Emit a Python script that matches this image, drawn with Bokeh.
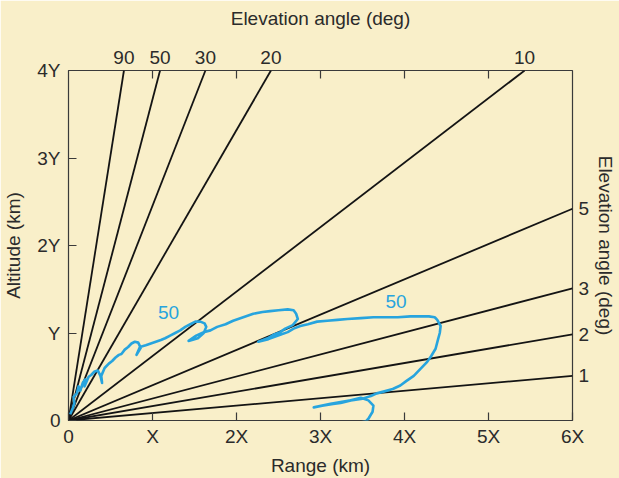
from bokeh.plotting import figure
from bokeh.models import LinearAxis, FixedTicker, Range1d
from bokeh.core.properties import value
from bokeh.embed import file_html
from bokeh.resources import INLINE

# ---- data ----
x_ticks = [0, 1, 2, 3, 4, 5, 6]
x_tick_labels = ["0", "X", "2X", "3X", "4X", "5X", "6X"]
y_ticks = [0, 1, 2, 3, 4]
y_tick_labels = ["0", "Y", "2Y", "3Y", "4Y"]

ray_angles = [1, 2, 3, 5, 10, 20, 30, 50, 90]
ray_end_x = [6, 6, 6, 6, 5.43, 2.41, 1.63, 1.09, 0.66]
ray_end_y = [0.51, 0.985, 1.51, 2.42, 4, 4, 4, 4, 4]

trace_x = [0.02, 0.05, 0.07, 0.06, 0.10, 0.12, 0.14, 0.17, 0.20, 0.19, 0.24, 0.27, 0.31, 0.35, 0.38,
           0.40, 0.39, 0.43, 0.48, 0.52, 0.56, 0.60, 0.63, 0.67, 0.71, 0.75, 0.79, 0.83, 0.86, 0.81,
           0.85, 0.92, 0.98, 1.04, 1.10, 1.15, 1.21, 1.27, 1.33, 1.39, 1.45, 1.51, 1.57, 1.62, 1.64,
           1.61, 1.54, 1.43, 1.52, 1.61, 1.69, 1.77, 1.87, 1.96, 2.08, 2.20, 2.31, 2.40, 2.50, 2.61,
           2.68, 2.71, 2.73, 2.67, 2.58, 2.52, 2.44, 2.37, 2.26, 2.38, 2.52, 2.61, 2.68, 2.76, 2.85,
           2.96, 3.08, 3.20, 3.32, 3.48, 3.63, 3.77, 3.92, 4.07, 4.19, 4.29, 4.36, 4.39, 4.43, 4.42,
           4.40, 4.37, 4.32, 4.27, 4.19, 4.11, 4.02, 3.95, 3.86, 3.75, 3.67, 3.60, 3.50, 3.36, 3.24,
           3.15, 3.02, 2.92, 3.12, 3.36, 3.48, 3.57, 3.63, 3.62, 3.57, 3.54, 3.44, 3.36]
trace_y = [0.07, 0.14, 0.20, 0.27, 0.31, 0.39, 0.34, 0.43, 0.47, 0.39, 0.50, 0.52, 0.56, 0.57, 0.51,
           0.43, 0.51, 0.60, 0.65, 0.68, 0.72, 0.75, 0.76, 0.81, 0.84, 0.88, 0.90, 0.89, 0.83, 0.75,
           0.84, 0.86, 0.88, 0.90, 0.92, 0.94, 0.97, 1.00, 1.03, 1.07, 1.10, 1.13, 1.13, 1.11, 1.07,
           1.00, 0.94, 0.91, 0.97, 1.01, 1.03, 1.07, 1.10, 1.14, 1.18, 1.22, 1.24, 1.25, 1.26, 1.27,
           1.26, 1.22, 1.16, 1.09, 1.05, 1.01, 0.98, 0.94, 0.90, 0.93, 0.98, 1.01, 1.05, 1.08, 1.10,
           1.13, 1.14, 1.15, 1.16, 1.17, 1.18, 1.18, 1.18, 1.19, 1.19, 1.19, 1.18, 1.15, 1.08, 1.00,
           0.93, 0.82, 0.74, 0.67, 0.59, 0.51, 0.45, 0.40, 0.36, 0.33, 0.31, 0.28, 0.25, 0.23, 0.20,
           0.19, 0.17, 0.15, 0.19, 0.23, 0.26, 0.23, 0.17, 0.10, 0.02, -0.01, -0.03, -0.06]

contour_labels = ["50", "50"]
contour_label_x = [1.19, 3.90]
contour_label_y = [1.24, 1.36]

# ---- style ----
BG = "#f9efc9"
INK = "#2b2b2b"
BLUE = "#27a4de"
FONT = "Liberation Sans"
FS = "19px"

p = figure(width=619, height=478, x_range=Range1d(0, 6), y_range=Range1d(0, 4),
           output_backend="svg", toolbar_location=None,
           x_axis_location=None, y_axis_location=None,
           min_border_left=68, min_border_right=47, min_border_top=70, min_border_bottom=56)
p.grid.visible = False
p.background_fill_color = BG
p.border_fill_color = BG
p.outline_line_color = "#3a3a3a"
p.outline_line_width = 1.2


def style_axis(ax):
    ax.axis_line_color = None
    ax.major_tick_in = 8
    ax.major_tick_out = 0
    ax.minor_tick_in = 8
    ax.minor_tick_out = 0
    ax.minor_tick_line_color = None
    ax.major_tick_line_color = "#3a3a3a"
    ax.major_tick_line_width = 1.2
    ax.minor_tick_line_width = 1.2
    ax.major_label_text_font = FONT
    ax.major_label_text_font_size = FS
    ax.major_label_text_color = INK
    ax.axis_label_text_font = FONT
    ax.axis_label_text_font_size = FS
    ax.axis_label_text_font_style = "normal"
    ax.axis_label_text_color = INK


# bottom: range
xb = LinearAxis(ticker=FixedTicker(ticks=x_ticks),
                major_label_overrides=dict(zip(x_ticks, x_tick_labels)),
                axis_label="Range (km)")
style_axis(xb)
xb.major_label_standoff = 5
xb.axis_label_standoff = 5
p.add_layout(xb, "below")

# left: altitude
yl = LinearAxis(ticker=FixedTicker(ticks=y_ticks),
                major_label_overrides=dict(zip(y_ticks, y_tick_labels)),
                axis_label="Altitude (km)")
style_axis(yl)
yl.major_label_standoff = 8
yl.axis_label_standoff = 10
p.add_layout(yl, "left")

# top: elevation-angle labels at ray ends, small ticks at range multiples
top_idx = [i for i, yv in enumerate(ray_end_y) if yv >= 4]
side_idx = [i for i, yv in enumerate(ray_end_y) if yv < 4]
top_x = [ray_end_x[i] for i in top_idx]
top_lab = [str(ray_angles[i]) for i in top_idx]
side_y = [ray_end_y[i] for i in side_idx]
side_lab = [str(ray_angles[i]) for i in side_idx]

xt = LinearAxis(ticker=FixedTicker(ticks=top_x, minor_ticks=x_ticks[1:-1]),
                major_label_overrides=dict(zip(top_x, top_lab)),
                axis_label="Elevation angle (deg)")
style_axis(xt)
xt.major_tick_line_color = None
xt.minor_tick_line_color = "#3a3a3a"
xt.major_label_standoff = 7
xt.axis_label_standoff = 19
p.add_layout(xt, "above")

# right: elevation-angle labels at ray ends
yr = LinearAxis(ticker=FixedTicker(ticks=side_y),
                major_label_overrides=dict(zip(side_y, side_lab)),
                axis_label="Elevation angle (deg)")
style_axis(yr)
yr.major_tick_line_color = None
yr.major_label_standoff = 6
yr.axis_label_standoff = 3
p.add_layout(yr, "right")

# rays
p.segment(x0=[0] * len(ray_angles), y0=[0] * len(ray_angles), x1=ray_end_x, y1=ray_end_y,
          line_color="#141414", line_width=1.8)

# blue trace
p.line(trace_x, trace_y, line_color=BLUE, line_width=2.6, line_join="round")
p.text(x=contour_label_x, y=contour_label_y, text=contour_labels, text_color=BLUE,
       text_font=value(FONT), text_font_size=FS, text_align="center", text_baseline="middle")

open("out.html", "w").write(file_html(p, INLINE))
